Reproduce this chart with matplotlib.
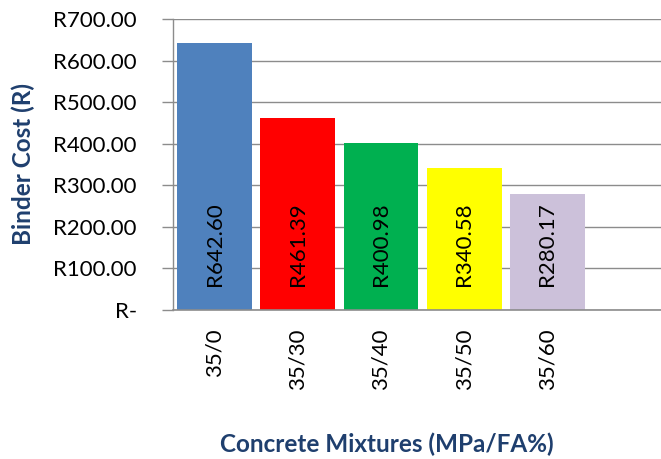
import matplotlib.pyplot as plt

# data
mixtures = ["35/0", "35/30", "35/40", "35/50", "35/60"]
cost = [642.60, 461.39, 400.98, 340.58, 280.17]
colours = ["#4F81BD", "#FF0000", "#00B050", "#FFFF00", "#CCC1DA"]
yticks = [0, 100, 200, 300, 400, 500, 600, 700]
ytick_labels = ["R-", "R100.00", "R200.00", "R300.00", "R400.00",
                "R500.00", "R600.00", "R700.00"]

plt.rcParams['font.family'] = ['Lato', 'DejaVu Sans']
title_col = "#1F3F6E"
grid_col = "#8C8C8C"

fig = plt.figure(figsize=(6.61, 4.59), dpi=100)
ax = fig.add_axes([0.2617, 0.3246, 0.74, 0.634])

x = range(len(mixtures))
ax.bar(x, cost, width=0.9, color=colours, zorder=2)

# value labels inside the bars
for i, v in enumerate(cost):
    ax.text(i, 158, "R%.2f" % v, rotation=90, ha='center', va='center',
            fontsize=16, color='black', zorder=3)

ax.set_xlim(-0.5, 5.38)
ax.set_ylim(0, 700)
ax.set_yticks(yticks)
ax.set_yticklabels(ytick_labels, fontsize=16)
ax.set_xticks(list(x))
ax.set_xticklabels(mixtures, rotation=90, fontsize=16)
ax.tick_params(axis='x', length=0, pad=13)
ax.tick_params(axis='y', length=8, width=1, color=grid_col, pad=18)

ax.grid(axis='y', color=grid_col, lw=1, zorder=0)
for s in ['top', 'right']:
    ax.spines[s].set_visible(False)
ax.spines['left'].set_color(grid_col)
ax.spines['bottom'].set_color(grid_col)
ax.spines['left'].set_linewidth(1)
ax.spines['bottom'].set_linewidth(1.2)

fig.text(0.036, 0.642, "Binder Cost (R)", rotation=90, ha='center', va='center',
         fontsize=17.5, fontweight='bold', color=title_col)
fig.text(0.585, 0.031, "Concrete Mixtures (MPa/FA%)", ha='center', va='center',
         fontsize=17.5, fontweight='bold', color=title_col)

fig.savefig("out.png", dpi=100)
